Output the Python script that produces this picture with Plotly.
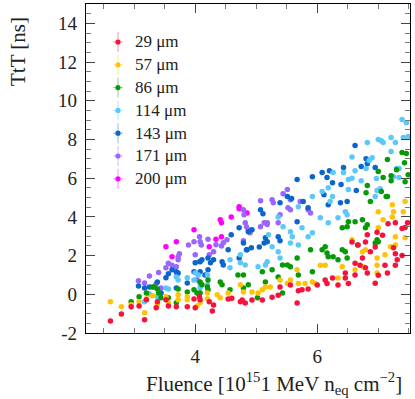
import plotly.graph_objects as go

# thickness labels and colours
labels = ['29 μm', '57 μm', '86 μm', '114 μm', '143 μm', '171 μm', '200 μm']
colors = ['#f5123c', '#ffc20a', '#079a07', '#5cc8fa', '#0a66cc', '#9966ff', '#ff00ff']

# Fluence [1e15 neq/cm2], TtT [ns]
x29 = [2.61, 2.79, 2.95, 3.08, 3.17, 3.2, 3.36, 3.38, 3.52, 3.56, 3.69, 3.87, 4.0, 4.07, 4.08, 4.23,
       3.98, 4.28, 4.3, 4.54, 4.6, 4.74, 4.77, 4.82, 4.93, 5.1, 5.26, 5.36, 5.39, 5.56, 5.67, 5.69,
       5.75, 5.85, 6.0, 6.16, 6.13, 6.25, 6.34, 6.51, 6.46, 6.62, 6.79, 6.82, 6.74, 6.82, 6.95, 7.0,
       7.11, 7.15, 7.28, 7.31, 7.39, 7.25, 7.28, 7.39, 7.44, 7.48, 7.28, 7.16, 7.07, 6.98, 6.87, 6.95,
       6.57, 6.67, 6.79, 6.62, 6.7, 6.46]
y29 = [-1.38, -1.02, -0.65, -0.6, -1.32, -0.28, -0.7, -0.38, -0.28, -0.6, -0.65, -0.65, -0.7, -0.13, -0.28, -0.38,
       -0.24, -0.86, -0.55, -0.24, -0.2, -0.38, -0.3, -0.45, -0.3, -0.3, -0.15, -0.05, 0.38, 0.48, -0.45, 0.18,
       0.23, 0.28, 0.48, 0.56, 0.74, 0.84, 0.48, 0.56, 0.84, 1.0, 1.37, 1.1, 1.88, 3.08, 0.57, 0.98,
       1.5, 1.1, 1.5, 1.78, 2.0, 2.4, 2.1, 3.4, 3.45, 3.7, 3.7, 3.65, 3.05, 3.2, 2.2, 2.45,
       2.7, 2.55, 2.7, 1.6, 1.5, 1.1]

x57 = [2.61, 2.79, 2.95, 3.08, 3.17, 3.2, 3.3, 3.38, 3.52, 3.56, 3.72, 3.72, 3.87, 3.87, 4.03, 4.08,
       4.2, 4.2, 4.36, 4.41, 4.54, 4.74, 4.79, 4.93, 5.03, 5.1, 5.15, 5.23, 5.39, 5.51, 5.56, 5.67,
       5.69, 5.8, 5.92, 5.97, 6.05, 6.13, 6.34, 6.41, 6.57, 6.62, 6.74, 6.79, 6.75, 6.98, 6.98, 6.98,
       7.11, 7.2, 7.28, 7.0, 7.08, 7.23, 7.25, 7.41, 7.44, 7.0, 7.28, 7.23, 7.44]
y57 = [-0.38, -0.65, -0.54, -0.38, -0.96, -0.23, -0.07, -0.54, -0.13, -0.44, -0.02, -0.28, -0.13, -0.28, -0.6, -0.44,
       -0.23, 0.07, -0.02, -0.18, 0.07, 0.49, 0.12, 0.12, 0.07, 0.23, 0.38, 0.38, 0.74, 0.56, 0.74, 1.27,
       0.56, 0.56, 0.64, 0.56, 1.5, 1.5, 0.84, 1.42, 2.82, 1.27, 2.2, 2.3, 1.42, 1.88, 1.5, 1.1,
       2.04, 2.46, 2.55, 3.44, 3.85, 4.63, 4.27, 4.27, 4.79, 4.27, 2.97, 4.0, 2.92]

x86 = [2.95, 3.08, 3.2, 3.3, 3.33, 3.38, 3.4, 3.44, 3.56, 3.69, 3.72, 3.87, 3.98, 4.03, 4.08, 4.11,
       4.2, 4.21, 4.08, 4.21, 4.41, 4.44, 4.57, 4.7, 4.79, 4.79, 4.87, 5.02, 5.1, 5.15, 5.26, 5.36,
       5.43, 5.51, 5.43, 5.56, 5.67, 5.69, 5.92, 5.89, 6.08, 6.13, 6.16, 6.18, 6.26, 6.41, 6.49, 6.51,
       6.62, 6.74, 6.79, 6.82, 6.49, 6.46, 6.98, 6.95, 7.0, 6.87, 7.15, 6.66, 6.41, 6.34, 7.15, 7.0,
       7.08, 7.21, 7.21, 7.3, 7.39, 7.46, 7.43, 7.44, 7.49, 6.82, 6.8, 7.05, 7.13]
y86 = [-0.38, -0.13, 0.07, 0.38, 0.38, 0.28, 0.07, -0.18, -0.18, -0.44, 0.28, 0.12, 0.23, 0.07, 0.07, 0.49,
       0.38, 0.74, 0.64, 0.23, 0.64, 0.49, 0.23, 1.0, 1.0, 0.33, 0.49, -0.18, 1.16, 0.64, 1.27, 0.9,
       1.52, 1.52, 0.07, 1.42, 1.88, 1.0, 1.16, 2.3, 2.3, 2.46, 2.14, 1.94, 1.94, 3.44, 3.49, 3.75,
       3.75, 3.85, 3.44, 3.59, 1.88, 2.2, 2.82, 2.65, 2.72, 4.79, 5.05, 2.55, 2.3, 1.78, 6.96, 6.34,
       6.03, 6.13, 5.87, 6.44, 7.33, 7.27, 6.8, 5.82, 6.18, 5.62, 5.25, 5.31, 5.05]

x114 = [3.17, 3.25, 3.38, 3.52, 3.56, 3.69, 3.72, 3.87, 3.98, 4.08, 4.08, 4.2, 4.0, 4.05, 4.2, 4.57,
        4.57, 4.74, 4.82, 5.18, 5.15, 5.03, 5.36, 5.39, 4.74, 5.2, 5.26, 5.56, 5.59, 5.69, 5.36, 5.44,
        5.56, 5.75, 5.85, 5.92, 5.69, 6.05, 6.18, 6.34, 6.46, 6.49, 6.25, 6.95, 6.21, 6.26, 6.43, 6.51,
        6.57, 6.62, 6.72, 6.82, 6.85, 6.8, 6.97, 7.0, 7.05, 7.08, 6.98, 7.03, 7.21, 7.21, 7.28, 7.3,
        7.34, 7.39, 7.46, 7.49, 7.41, 7.25, 7.34, 6.9, 6.57, 6.51, 6.18, 6.08, 5.92]
y114 = [-0.38, 0.02, -0.13, 0.33, 0.28, 0.9, 0.74, 0.85, 0.74, 0.55, 0.33, 0.49, 1.1, 1.0, 1.0, 1.37,
        1.78, 2.04, 1.52, 1.68, 1.52, 1.42, 2.2, 1.88, 1.63, 3.08, 2.46, 3.23, 2.97, 4.53, 4.0, 3.49,
        2.65, 3.44, 2.97, 3.18, 2.55, 3.96, 3.7, 3.96, 4.27, 4.11, 5.05, 5.05, 4.79, 6.29, 6.29, 5.93,
        7.1, 6.39, 5.87, 7.84, 6.91, 6.5, 5.98, 8.0, 7.94, 7.84, 5.36, 5.46, 8.1, 7.38, 7.84, 6.5,
        6.5, 9.03, 8.87, 8.15, 8.1, 6.08, 6.03, 7.05, 5.99, 5.41, 5.51, 5.31, 5.05]

x143 = [3.07, 3.17, 3.25, 3.38, 3.44, 3.52, 3.56, 3.62, 3.69, 3.72, 3.69, 3.87, 3.98, 4.0, 4.08, 4.08,
        4.11, 4.21, 4.21, 4.16, 4.25, 4.3, 4.44, 4.46, 4.85, 4.72, 4.79, 4.87, 4.93, 5.07, 5.11, 5.15,
        5.18, 5.13, 5.36, 5.39, 5.39, 5.51, 5.58, 5.67, 4.59, 4.84, 4.92, 5.05, 4.54, 4.72, 5.92, 6.08,
        6.16, 6.2, 6.25, 6.39, 6.43, 6.62, 6.72, 6.8, 6.82, 6.95, 6.64, 6.11, 6.49, 6.38, 6.18, 5.85,
        5.67, 5.77]
y143 = [0.43, 0.33, 0.38, 0.64, 0.07, 0.85, 1.06, 1.27, 1.16, 1.1, 0.33, 0.58, 1.16, 1.63, 1.16, 1.68,
        1.78, 1.88, 1.27, 1.0, 1.63, 1.78, 1.68, 1.52, 2.3, 3.44, 2.65, 3.23, 3.33, 4.37, 4.16, 2.92,
        2.72, 2.65, 2.97, 2.77, 4.73, 5.05, 4.95, 5.93, 3.08, 2.3, 2.4, 2.45, 2.3, 1.88, 6.08, 6.29,
        6.03, 6.39, 5.77, 5.67, 6.55, 7.69, 6.6, 7.0, 6.75, 6.55, 5.36, 5.15, 4.79, 4.73, 4.63, 4.47,
        3.75, 4.79]

x171 = [3.07, 3.17, 3.25, 3.4, 3.36, 3.44, 3.52, 3.56, 3.62, 3.69, 3.72, 3.74, 3.72, 3.7, 3.89, 4.0,
        3.98, 4.07, 4.08, 4.1, 4.07, 4.03, 4.21, 4.23, 4.34, 4.43, 4.46, 4.52, 4.3, 4.79, 4.8, 4.82,
        4.84, 4.79, 4.87, 4.9, 5.07, 5.13, 5.18, 5.18, 5.26, 5.28, 5.39, 5.44, 5.51, 5.56, 5.52, 5.56,
        5.36, 5.07, 5.85, 5.89, 5.72]
y171 = [0.7, 0.58, 0.95, 1.12, 0.55, 0.33, 1.37, 1.6, 1.5, 1.42, 1.78, 2.1, 1.94, 1.0, 2.55, 2.04,
        2.72, 2.97, 2.72, 2.55, 1.7, 0.75, 2.85, 2.04, 2.56, 2.5, 2.66, 2.82, 2.2, 4.37, 4.11, 3.7,
        3.49, 2.77, 3.34, 3.18, 4.83, 3.7, 3.7, 3.6, 4.89, 4.73, 4.11, 5.2, 5.41, 4.89, 4.47, 4.37,
        3.7, 3.49, 4.37, 4.2, 4.79]

x200 = [3.52, 3.69, 3.62, 3.98, 4.23, 4.34, 4.43, 4.41, 4.43, 4.59, 4.72, 4.72, 4.85]
y200 = [2.46, 2.72, 1.94, 3.33, 2.46, 2.85, 2.97, 3.85, 3.7, 4.0, 4.53, 4.42, 4.2]

xs = [x29, x57, x86, x114, x143, x171, x200]
ys = [y29, y57, y86, y114, y143, y171, y200]

ytickvals = [-2, 0, 2, 4, 6, 8, 10, 12, 14]
yticktext = ['-2', '0', '2', '4', '6', '8', '10', '12', '14']

W, H = 415, 399
L, R, T, B = 86, 5, 4, 66
pw, ph = W - L - R, H - T - B


def px(xp):
    return (xp - L) / pw


def py(yp):
    return (H - B - yp) / ph


def rgba(hexc, a):
    h = hexc.lstrip('#')
    return 'rgba(%d,%d,%d,%s)' % (int(h[0:2], 16), int(h[2:4], 16), int(h[4:6], 16), a)


serif = 'Liberation Serif'

fig = go.Figure()

# draw heaviest first so the thin sensors end on top
for i in reversed(range(len(labels))):
    fig.add_trace(go.Scatter(
        x=xs[i], y=ys[i], mode='markers', name=labels[i],
        marker=dict(color=colors[i], size=5.5, line=dict(width=0)),
        showlegend=False))

# hand-made legend (marker with light error-bar cross)
shapes = []
annotations = []
for i, lab in enumerate(labels):
    yc = 42 + i * 22.8
    xc = 118
    shapes.append(dict(type='line', xref='paper', yref='paper',
                       x0=px(xc), x1=px(xc), y0=py(yc - 10), y1=py(yc + 10),
                       line=dict(color=rgba(colors[i], 0.45), width=1)))
    shapes.append(dict(type='line', xref='paper', yref='paper',
                       x0=px(xc - 5), x1=px(xc + 5), y0=py(yc), y1=py(yc),
                       line=dict(color=rgba(colors[i], 0.45), width=1)))
    shapes.append(dict(type='circle', xref='paper', yref='paper',
                       x0=px(xc - 2.6), x1=px(xc + 2.6), y0=py(yc - 2.6), y1=py(yc + 2.6),
                       fillcolor=colors[i], line=dict(width=0)))
    annotations.append(dict(text=lab, xref='paper', yref='paper', x=px(133), y=py(yc),
                            xanchor='left', yanchor='middle', showarrow=False,
                            font=dict(family=serif, size=17, color='#222')))

annotations.append(dict(text='TtT [ns]', textangle=-90, xref='paper', yref='paper',
                        x=px(18), y=py(52), xanchor='center', yanchor='middle',
                        showarrow=False, font=dict(family=serif, size=21, color='#222')))
annotations.append(dict(text='Fluence [10<sup>15</sup>1 MeV n<sub>eq</sub> cm<sup>−2</sup>]',
                        xref='paper', yref='paper', x=px(404), y=py(383),
                        xanchor='right', yanchor='middle', showarrow=False,
                        font=dict(family=serif, size=21, color='#222')))

fig.update_layout(
    width=W, height=H,
    margin=dict(l=L, r=R, t=T, b=B, autoexpand=False),
    plot_bgcolor='white', paper_bgcolor='white',
    shapes=shapes, annotations=annotations,
    font=dict(family=serif, color='#222'),
)

fig.update_xaxes(
    range=[2.21, 7.52], showgrid=False, zeroline=False, automargin=False,
    showline=True, linecolor='black', linewidth=1.2, mirror='ticks',
    ticks='inside', ticklen=9, tickcolor='#444', tickwidth=1, dtick=2, tick0=0,
    tickfont=dict(family=serif, size=19), ticklabelstandoff=6,
    minor=dict(ticks='inside', ticklen=5, dtick=0.5, tick0=0, tickcolor='#777', showgrid=False),
)
fig.update_yaxes(
    range=[-2, 15], showgrid=False, zeroline=False, automargin=False,
    showline=True, linecolor='black', linewidth=1.2, mirror='ticks',
    ticks='inside', ticklen=9, tickcolor='#444', tickwidth=1,
    tickvals=ytickvals, ticktext=yticktext,
    tickfont=dict(family=serif, size=19), ticklabelstandoff=4,
    minor=dict(ticks='inside', ticklen=5, dtick=0.5, tick0=0, tickcolor='#777', showgrid=False),
)

# page body has a default 8px margin; drop it so the figure sits at the corner
fig.write_html("out.html", config={'displayModeBar': False},
               post_script="document.body.style.margin='0';")
